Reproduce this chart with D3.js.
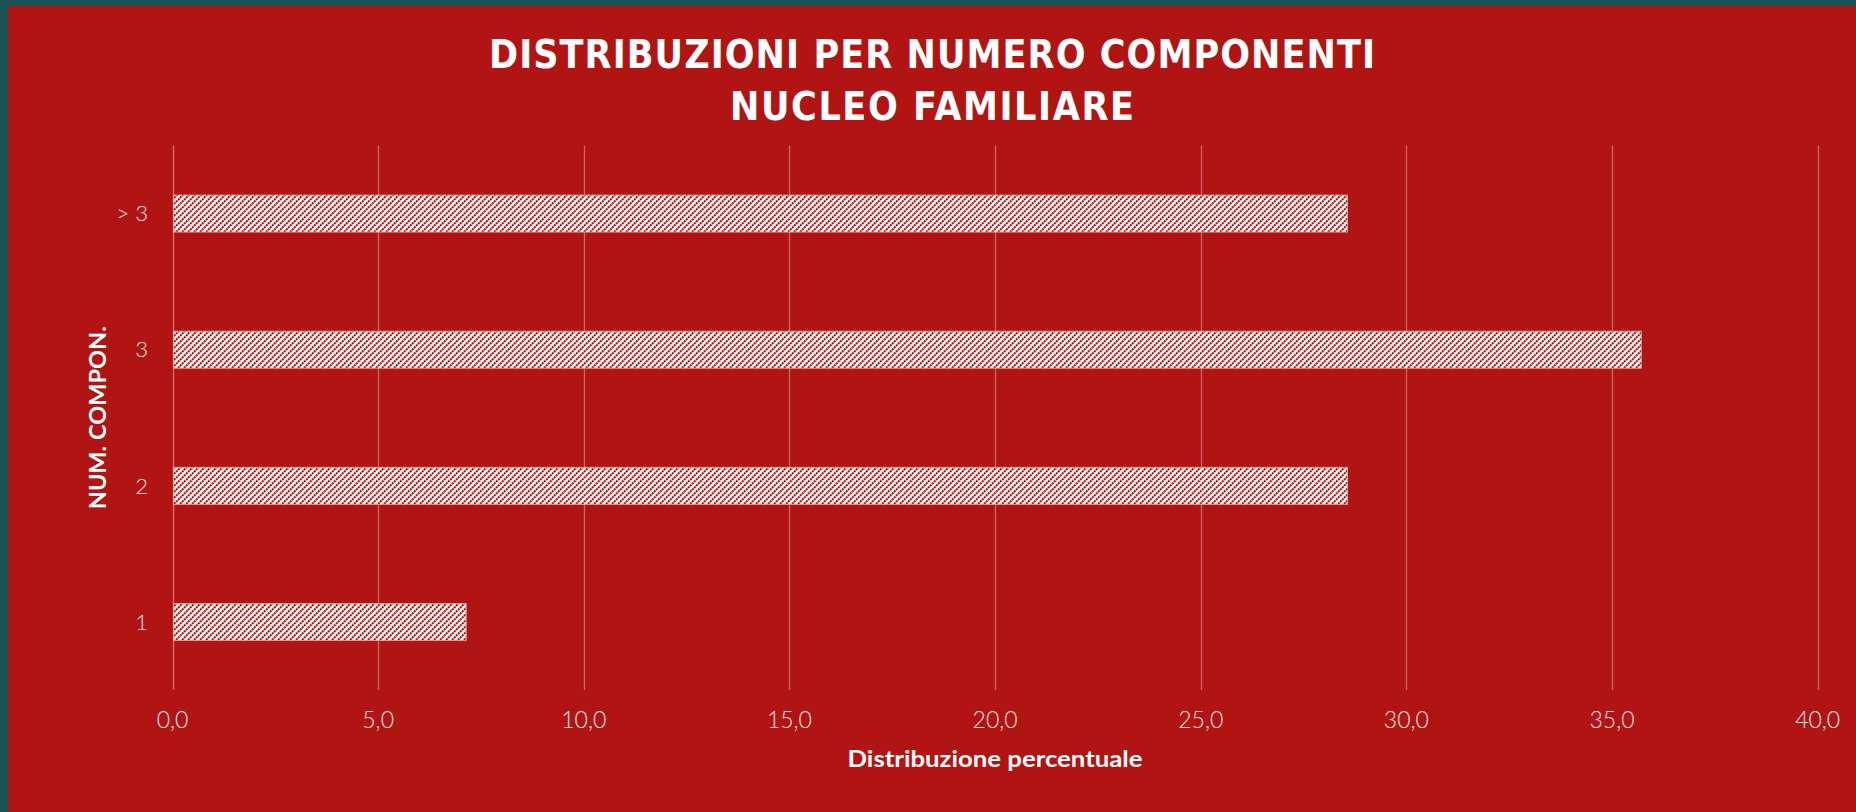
<!DOCTYPE html>
<html>
<head>
<meta charset="utf-8">
<script src="https://cdn.jsdelivr.net/npm/d3@7"></script>
<style>
  html, body { margin: 0; padding: 0; background: #1d5357; overflow: hidden; }
  svg { display: block; }
</style>
</head>
<body>
<div id="chart"></div>
<script>
const categories = ["1", "2", "3", "> 3"];
const values = [7.14, 28.57, 35.71, 28.57];
const xTicks = [0, 5, 10, 15, 20, 25, 30, 35, 40];
const titleLines = ["DISTRIBUZIONI PER NUMERO COMPONENTI", "NUCLEO FAMILIARE"];
const xTitle = "Distribuzione percentuale";
const yTitle = "NUM. COMPON.";

const W = 1856, H = 812;
const red = "#b01513";
const plot = {left: 172.5, right: 1817.7, top: 145.5, bottom: 690};

const svg = d3.select("#chart").append("svg")
  .attr("width", W)
  .attr("height", H);

// teal frame + red card
svg.append("rect").attr("width", W).attr("height", H).attr("fill", "#1d5357");
svg.append("rect").attr("x", 8).attr("y", 6).attr("width", W - 8).attr("height", H - 6).attr("fill", red);

// hatch pattern for bars (dotted upward diagonal)
const defs = svg.append("defs");
const pat = defs.append("pattern")
  .attr("id", "hatch")
  .attr("patternUnits", "userSpaceOnUse")
  .attr("width", 6)
  .attr("height", 6);
pat.append("rect").attr("width", 6).attr("height", 6).attr("fill", "#ffffff");
pat.append("path")
  .attr("d", "M0,6 L6,0 M-1.5,1.5 L1.5,-1.5 M4.5,7.5 L7.5,4.5")
  .attr("stroke", red)
  .attr("stroke-width", 2)
  .attr("stroke-dasharray", "2.2,0.6");

const x = d3.scaleLinear()
  .domain([0, 40])
  .range([plot.left, plot.right]);

const y = d3.scaleBand()
  .domain(categories.slice().reverse())
  .range([plot.top, plot.bottom])
  .paddingInner(0.728)
  .paddingOuter(0.364);

// gridlines
svg.append("g")
  .selectAll("line")
  .data(xTicks)
  .enter().append("line")
    .attr("x1", d => Math.round(x(d)) + 0.5)
    .attr("x2", d => Math.round(x(d)) + 0.5)
    .attr("y1", plot.top)
    .attr("y2", plot.bottom)
    .attr("stroke", d => d === 0 ? "#e8625d" : "rgba(230,170,170,0.55)")
    .attr("stroke-width", d => d === 0 ? 1.5 : 1.3);

// bars
svg.append("g")
  .selectAll("rect")
  .data(categories.map((c, i) => ({c, v: values[i]})))
  .enter().append("rect")
    .attr("x", x(0) + 1)
    .attr("y", d => y(d.c))
    .attr("width", d => x(d.v) - x(0) - 1)
    .attr("height", y.bandwidth())
    .attr("fill", "url(#hatch)")
    .attr("stroke", "#f0a8a4")
    .attr("stroke-width", 0.8);

// x tick labels
const fmt = d => d3.format(".1f")(d).replace(".", ",");
svg.append("g")
  .selectAll("text")
  .data(xTicks)
  .enter().append("text")
    .attr("x", d => x(d))
    .attr("y", 720)
    .attr("dy", "0.35em")
    .attr("text-anchor", "middle")
    .attr("fill", "#f4e4e4")
    .style("font-family", "Lato, 'Open Sans', sans-serif")
    .style("font-weight", 300)
    .style("font-size", "23px")
    .text(fmt);

// y tick labels
svg.append("g")
  .selectAll("text")
  .data(categories)
  .enter().append("text")
    .attr("x", 148)
    .attr("y", d => y(d) + y.bandwidth() / 2)
    .attr("dy", "0.35em")
    .attr("text-anchor", "end")
    .attr("fill", "#f4e4e4")
    .style("font-family", "Lato, 'Open Sans', sans-serif")
    .style("font-weight", 300)
    .style("font-size", "22px")
    .text(d => d);

// title
svg.append("g")
  .selectAll("text")
  .data(titleLines)
  .enter().append("text")
    .attr("x", (W + 8) / 2)
    .attr("y", (d, i) => 54 + i * 52)
    .attr("dy", "0.36em")
    .attr("text-anchor", "middle")
    .attr("fill", "#ffffff")
    .attr("textLength", (d, i) => i === 0 ? 886 : 404)
    .attr("lengthAdjust", "spacing")
    .style("font-family", "'DejaVu Sans Condensed', 'Open Sans', sans-serif")
    .style("font-weight", "bold")
    .style("font-size", "39px")
    .text(d => d);

// axis titles
svg.append("text")
  .attr("x", 995)
  .attr("y", 759)
  .attr("dy", "0.35em")
  .attr("text-anchor", "middle")
  .attr("fill", "#ffffff")
  .attr("textLength", 295)
  .attr("lengthAdjust", "spacingAndGlyphs")
  .style("font-family", "Lato, 'Open Sans', sans-serif")
  .style("font-weight", "bold")
  .style("font-size", "22px")
  .text(xTitle);

svg.append("text")
  .attr("transform", `translate(98,${(plot.top + plot.bottom) / 2}) rotate(-90)`)
  .attr("dy", "0.35em")
  .attr("text-anchor", "middle")
  .attr("fill", "#ffffff")
  .attr("textLength", 183)
  .attr("lengthAdjust", "spacingAndGlyphs")
  .style("font-family", "Lato, 'Open Sans', sans-serif")
  .style("font-weight", "bold")
  .style("font-size", "23px")
  .text(yTitle);
</script>
</body>
</html>
